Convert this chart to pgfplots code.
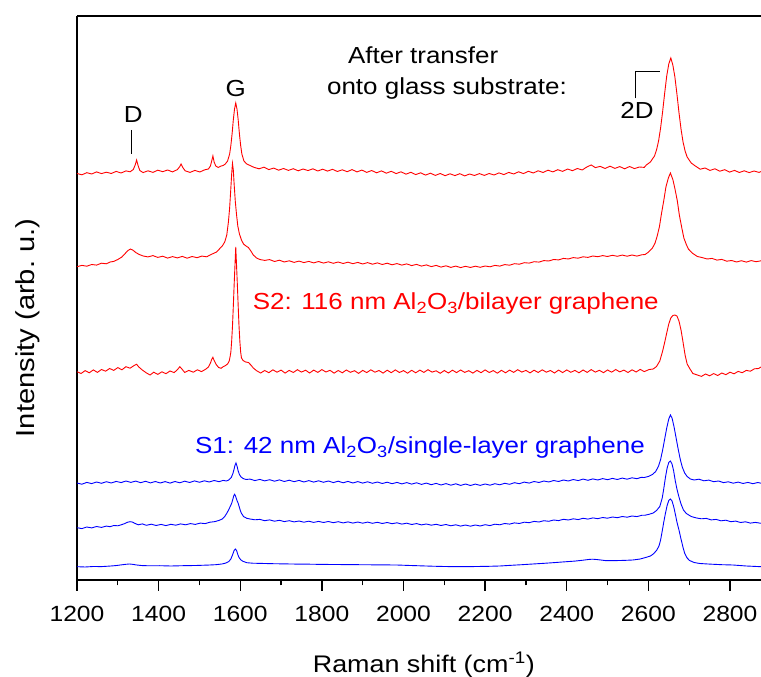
\documentclass[border=0pt]{standalone}
\usepackage{fontspec}
\setmainfont[FakeStretch=1.12]{Liberation Sans}
\usepackage{pgfplots}
\pgfplotsset{compat=1.18}
\begin{document}
\begin{tikzpicture}
\useasboundingbox (-77pt,-97pt) rectangle (684pt,580pt);
\begin{axis}[
  at={(0,0)}, anchor=south west,
  scale only axis, width=684pt, height=564pt,
  xmin=1200, xmax=2876, ymin=0, ymax=564,
  clip=false,
  axis y line*=left,
  xtick pos=bottom,
  ytick=\empty,
  xtick={1200,1400,...,2800},
  minor x tick num=1,
  tick align=outside,
  major tick length=11pt, minor tick length=5.5pt,
  every tick/.append style={black, line width=1.3pt},
  axis line style={line width=1.8pt},
  /pgf/number format/assume math mode=true,
  /pgf/number format/1000 sep={},
  xticklabel style={font=\fontsize{22}{25}\selectfont, anchor=center, yshift=-23pt},
  xlabel={Raman shift (cm\textsuperscript{-1})},
  xlabel style={font=\fontsize{24}{28}\selectfont, at={(axis description cs:0.507,-0.151)}, anchor=center},
  ylabel={Intensity (arb.\ u.)},
  ylabel style={font=\fontsize{26}{30}\selectfont, at={(axis description cs:-0.0724,0.447)}, anchor=center},
  every axis plot/.append style={line width=0.9pt},
]
% Series A: top red (after transfer onto glass)
\addplot[red] coordinates {
(1200,406.5)(1212,405.2)(1224,407.3)(1236,406.0)(1248,408.1)(1260,406.4)(1272,407.8)(1284,406.5)(1296,408.6)(1308,407.0)
(1320,409.1)(1330,408.2)(1338,410.5)(1343,415.5)(1346,420)(1350,414)(1354,409.5)(1362,407.4)(1374,409.2)(1386,407.6)
(1398,409.8)(1410,408.3)(1422,410.0)(1434,408.1)(1446,410.4)(1452,413.5)(1455,416)(1459,412.6)(1465,409.2)(1477,407.6)
(1489,409.6)(1501,408.0)(1513,410.2)(1522,411)(1527,414)(1530,419)(1533,424)(1536,418)(1540,414)(1546,412.5)
(1552,413.8)(1558,414.5)(1563,415.8)(1569,419)(1574,426)(1577,434.5)(1580,446)(1583,460)(1586,471)(1589,477)
(1592,471)(1595,460)(1598,446)(1601,434.5)(1604,426)(1609,419)(1616,416)(1624,414.5)(1634,412.6)(1646,411.2)
(1658,412.8)(1670,410.4)(1682,411.9)(1694,409.8)(1706,411.5)(1718,409.6)(1730,411.3)(1742,409.2)(1754,411.0)(1766,409.4)
(1778,411.2)(1790,409.0)(1802,410.8)(1814,408.9)(1826,410.7)(1838,408.5)(1850,410.2)(1862,408.3)(1874,410.4)(1886,408.1)
(1898,409.9)(1910,407.6)(1922,409.5)(1934,407.2)(1946,409.1)(1958,406.8)(1970,408.7)(1982,406.4)(1994,408.2)(2006,405.8)
(2018,407.7)(2030,405.4)(2042,407.2)(2054,404.9)(2066,406.8)(2078,404.6)(2090,406.5)(2102,404.3)(2114,406.2)(2126,404.4)
(2138,406.3)(2150,404.1)(2162,406.0)(2174,404.5)(2186,406.4)(2198,404.6)(2210,406.5)(2222,405.0)(2234,407.1)(2246,405.4)
(2258,407.6)(2270,406.0)(2282,408.2)(2294,406.4)(2306,408.7)(2318,407.0)(2330,409.2)(2342,407.5)(2354,409.8)(2366,408.1)
(2378,410.3)(2390,408.6)(2402,411.0)(2414,409.3)(2426,411.5)(2438,410.0)(2450,413.2)(2460,415.0)(2470,412.4)(2482,413.6)
(2494,411.5)(2506,413.8)(2518,411.6)(2530,413.4)(2542,411.2)(2554,413.5)(2566,411.4)(2578,413.0)(2590,412.6)(2595,415)
(2605,418)(2615,424)(2620,430)(2625,439)(2630,452)(2635,468.5)(2640,487)(2645,504)(2650,516)(2655,522)
(2660,515)(2665,503)(2670,486)(2675,467.5)(2680,451)(2685,438)(2690,429)(2695,423)(2705,417)(2715,414)
(2727,410.8)(2739,412.0)(2751,409.6)(2763,411.2)(2775,408.8)(2787,410.3)(2799,407.9)(2811,409.6)(2823,407.5)(2835,409.2)
(2847,407.4)(2859,409.0)(2871,407.6)(2876,408.4)
};
% Series B: second red
\addplot[red] coordinates {
(1200,313.3)(1212,314.6)(1224,313.8)(1236,315.5)(1248,314.9)(1260,316.8)(1272,316.2)(1281,318)(1290,318.6)(1300,320.5)
(1310,323)(1318,326.5)(1325,329.5)(1331,331)(1337,329.8)(1344,327.5)(1352,325.6)(1362,324)(1374,323.1)(1386,324.4)
(1398,322.6)(1410,323.8)(1422,321.9)(1434,323.4)(1446,322.1)(1458,323.6)(1470,321.8)(1482,323.5)(1494,322.3)(1506,323.9)
(1518,323.2)(1526,325)(1534,326.5)(1542,328)(1550,331.5)(1556,334)(1562,338)(1567,345)(1571,358)(1574,372)
(1577,392)(1579,406)(1581,416.5)(1583,410)(1585,396)(1588,378)(1591,365)(1594,354)(1598,346)(1603,340)
(1608,336)(1614,334)(1620,332.5)(1626,329)(1632,325)(1640,322)(1648,320.5)(1660,319.6)(1672,320.4)(1684,318.5)
(1696,319.8)(1708,318.0)(1720,319.2)(1732,317.6)(1744,318.9)(1756,317.4)(1768,318.6)(1780,317.1)(1792,318.5)(1804,316.9)
(1816,318.2)(1828,316.7)(1840,318.0)(1852,316.5)(1864,317.8)(1876,316.3)(1888,317.6)(1900,316.0)(1912,317.4)(1924,315.8)
(1936,317.1)(1948,315.5)(1960,316.8)(1972,315.2)(1984,316.4)(1996,314.9)(2008,316.1)(2020,314.4)(2032,315.6)(2044,313.9)
(2056,315.1)(2068,313.4)(2080,314.6)(2092,312.9)(2104,314.2)(2116,312.6)(2128,313.9)(2140,312.4)(2152,313.7)(2164,312.5)
(2176,313.8)(2188,312.7)(2200,314.0)(2212,313.2)(2224,314.6)(2236,313.9)(2248,315.4)(2260,314.8)(2272,316.3)(2284,315.8)
(2296,317.3)(2308,316.9)(2320,318.3)(2332,317.9)(2344,319.4)(2356,319.0)(2368,320.5)(2380,320.1)(2392,321.6)(2404,321.0)
(2416,322.4)(2428,321.8)(2440,323.2)(2452,322.6)(2464,324.0)(2476,323.3)(2488,324.4)(2500,323.5)(2512,324.7)(2524,323.7)
(2536,324.9)(2548,323.8)(2560,325.0)(2572,323.9)(2584,325.2)(2592,325.5)(2599,327.5)(2610,332)(2616,336.5)(2621,343)
(2627,353)(2632,366)(2638,380)(2643,393)(2649,402)(2654,407)(2660,400.5)(2665,391.5)(2671,379)(2676,364.7)
(2682,352)(2687,342)(2693,335.5)(2698,331)(2709,326.5)(2720,323.5)(2732,322.4)(2744,321.0)(2756,321.6)(2768,319.9)
(2780,320.6)(2792,318.8)(2804,319.5)(2816,318.0)(2828,319.3)(2840,317.9)(2852,319.4)(2864,318.3)(2876,319.2)
};
% Series C: third red (S2)
\addplot[red] coordinates {
(1200,208.3)(1210,206.5)(1220,209.4)(1230,207.2)(1240,210.1)(1250,207.6)(1260,210.5)(1270,208.8)(1280,211.5)(1290,209.6)
(1300,212.4)(1310,210.2)(1320,213.3)(1330,211.8)(1340,214.5)(1346,215.7)(1352,212.8)(1360,210.0)(1370,207.1)(1379,205.0)
(1388,207.8)(1398,205.6)(1408,208.2)(1418,206.3)(1428,209.0)(1438,207.4)(1446,210.3)(1452,213.3)(1457,211.0)(1464,207.5)
(1474,209.6)(1485,207.8)(1495,210.2)(1505,208.4)(1515,210.7)(1522,213)(1527,217)(1530,220.5)(1533,222.7)(1536,219.5)
(1541,215.5)(1547,212.5)(1553,211.7)(1559,213.5)(1564,214.5)(1569,216)(1573,219)(1575,223)(1577,228)(1579,239)
(1581,254)(1583,273.5)(1585,294.6)(1587,314)(1589,333)(1591,314)(1593,294.6)(1595,273.5)(1597,254)(1599,239)
(1601,228)(1603,222)(1607,219.5)(1613,218)(1620,217.5)(1626,215)(1632,212)(1640,209.3)(1650,207.0)(1660,209.5)
(1670,207.3)(1680,210.2)(1690,207.8)(1700,209.9)(1710,206.9)(1720,209.6)(1730,207.5)(1740,210.3)(1750,207.9)(1760,209.8)
(1770,207.0)(1780,209.9)(1790,207.6)(1800,210.4)(1810,208.0)(1820,209.7)(1830,206.8)(1840,209.5)(1850,207.2)(1860,210.0)
(1870,207.7)(1880,209.3)(1890,206.6)(1900,209.6)(1910,207.4)(1920,210.2)(1930,207.8)(1940,209.5)(1950,206.9)(1960,209.8)
(1970,207.3)(1980,210.1)(1990,207.5)(2000,209.4)(2010,206.8)(2020,209.7)(2030,207.2)(2040,209.9)(2050,207.6)(2060,210.3)
(2070,207.9)(2080,209.2)(2090,206.7)(2100,209.5)(2110,207.0)(2120,209.8)(2130,207.4)(2140,210.0)(2150,207.6)(2160,209.3)
(2170,206.9)(2180,209.6)(2190,207.3)(2200,210.1)(2210,207.5)(2220,209.4)(2230,206.8)(2240,209.7)(2250,207.2)(2260,209.9)
(2270,207.6)(2280,210.3)(2290,207.9)(2300,209.6)(2310,207.1)(2320,209.8)(2330,207.5)(2340,210.2)(2350,207.8)(2360,209.5)
(2370,207.0)(2380,209.9)(2390,207.4)(2400,210.1)(2410,207.7)(2420,209.6)(2430,207.2)(2440,210.0)(2450,207.6)(2460,210.4)
(2470,207.9)(2480,209.7)(2490,207.3)(2500,210.0)(2510,207.8)(2520,210.5)(2530,208.1)(2540,209.9)(2550,207.5)(2560,210.2)
(2570,208.0)(2580,210.6)(2590,208.4)(2602,210.5)(2612,211)(2620,213.5)(2628,219)(2635,229)(2640,237.7)(2645,247)
(2650,256)(2655,262)(2660,264.5)(2665,265)(2670,264)(2675,259)(2680,250)(2685,237.7)(2690,225)(2695,216)
(2701,211.7)(2709,206.5)(2720,205.0)(2730,203.6)(2740,206.0)(2750,204.2)(2760,206.4)(2770,204.5)(2780,207.0)(2790,205.3)
(2800,207.8)(2810,206.2)(2820,208.6)(2830,207.3)(2840,209.6)(2850,208.8)(2860,211.2)(2870,211.5)(2876,213.0)
};
% Series D: top blue
\addplot[blue] coordinates {
(1200,97.0)(1212,95.8)(1224,97.6)(1236,96.4)(1248,98.0)(1260,96.7)(1272,98.3)(1284,97.0)(1296,98.6)(1308,97.4)
(1320,99.0)(1332,97.6)(1344,98.9)(1356,97.3)(1368,98.7)(1380,97.1)(1392,98.5)(1404,97.0)(1416,98.4)(1428,96.9)
(1440,98.5)(1452,97.2)(1464,98.8)(1476,97.5)(1488,99.1)(1500,97.7)(1512,99.2)(1524,98.0)(1536,99.5)(1548,98.3)
(1558,99.6)(1566,99.0)(1572,100)(1578,102.5)(1582,106.5)(1585,111)(1587,114.5)(1589.5,117)(1592,114)(1595,109)
(1598,105.5)(1602,103)(1607,101.5)(1614,100.5)(1624,100.9)(1636,99.4)(1648,100.6)(1660,99.1)(1672,100.3)(1684,98.8)
(1696,100.1)(1708,98.5)(1720,99.8)(1732,98.3)(1744,99.6)(1756,98.0)(1768,99.4)(1780,97.9)(1792,99.2)(1804,97.7)
(1816,99.0)(1828,97.4)(1840,98.8)(1852,97.2)(1864,98.6)(1876,97.0)(1888,98.4)(1900,96.9)(1912,98.2)(1924,96.7)
(1936,98.0)(1948,96.5)(1960,97.8)(1972,96.3)(1984,97.6)(1996,96.1)(2008,97.4)(2020,95.9)(2032,97.2)(2044,95.6)
(2056,96.9)(2068,95.3)(2080,96.6)(2092,95.0)(2104,96.4)(2116,94.8)(2128,96.2)(2140,94.6)(2152,96.0)(2164,94.5)
(2176,95.9)(2188,94.6)(2200,96.0)(2212,94.8)(2224,96.3)(2236,95.2)(2248,96.7)(2260,95.7)(2272,97.3)(2284,96.3)
(2296,97.9)(2308,96.9)(2320,98.5)(2332,97.5)(2344,99.0)(2356,98.0)(2368,99.5)(2380,98.5)(2392,100.0)(2404,99.0)
(2416,100.5)(2428,99.4)(2440,100.9)(2452,99.7)(2464,101.1)(2476,100.0)(2488,101.4)(2500,100.3)(2512,101.6)(2524,100.5)
(2536,101.9)(2548,100.8)(2560,102.2)(2572,101.3)(2582,102.6)(2590,102.5)(2600,103.5)(2610,105.5)(2618,108.5)(2625,114)
(2630,120.5)(2635,130)(2640,141)(2645,152)(2650,161)(2654,165)(2658,162)(2663,153)(2668,142)(2673,131)
(2678,121)(2683,113)(2689,107)(2695,103.5)(2703,101)(2712,100)(2724,100.8)(2736,99.2)(2748,99.9)(2760,98.3)
(2772,99.0)(2784,97.4)(2796,98.2)(2808,96.8)(2820,97.9)(2832,96.5)(2844,97.6)(2856,96.3)(2868,97.5)(2876,96.8)
};
% Series E: middle blue
\addplot[blue] coordinates {
(1200,52.3)(1212,51.4)(1224,53.0)(1236,52.1)(1248,53.5)(1260,52.6)(1272,53.9)(1281,53.3)(1290,54.5)(1300,54.2)
(1310,55.4)(1318,56.6)(1324,57.8)(1330,58.3)(1336,57.9)(1342,56.6)(1350,55.2)(1360,56.1)(1370,54.7)(1382,55.8)
(1394,54.5)(1406,55.6)(1418,54.4)(1430,55.7)(1442,54.8)(1454,56.1)(1466,55.2)(1478,56.4)(1490,55.6)(1502,56.9)
(1514,56.4)(1526,57.8)(1538,58.4)(1548,59.6)(1556,61)(1562,63.5)(1567,66.7)(1572,70.5)(1576,74)(1579,76.7)
(1582,81)(1584,84)(1586,85.7)(1588,84.5)(1590,82)(1592,79.5)(1595,76.7)(1598,72.5)(1601,68.5)(1603,66.7)
(1608,63.5)(1616,61.7)(1624,61.0)(1636,60.2)(1648,60.6)(1660,59.3)(1672,60.1)(1684,58.8)(1696,59.7)(1708,58.4)
(1720,59.3)(1732,58.1)(1744,59.0)(1756,57.8)(1768,58.8)(1780,57.6)(1792,58.6)(1804,57.5)(1816,58.5)(1828,57.3)
(1840,58.3)(1852,57.1)(1864,58.1)(1876,56.9)(1888,58.0)(1900,56.8)(1912,57.9)(1924,56.7)(1936,57.7)(1948,56.5)
(1960,57.5)(1972,56.3)(1984,57.2)(1996,55.9)(2008,56.8)(2020,55.5)(2032,56.4)(2044,55.1)(2056,56.0)(2068,54.8)
(2080,55.7)(2092,54.5)(2104,55.5)(2116,54.2)(2128,55.2)(2140,53.9)(2152,55.0)(2164,53.8)(2176,55.0)(2188,54.0)
(2200,55.3)(2212,54.4)(2224,55.8)(2236,55.2)(2248,56.5)(2260,55.9)(2272,57.1)(2284,56.5)(2296,57.8)(2308,57.3)
(2320,58.6)(2332,58.0)(2344,59.3)(2356,58.7)(2368,60.0)(2380,59.4)(2392,60.7)(2404,60.0)(2416,61.2)(2428,60.4)
(2440,61.7)(2452,60.9)(2464,62.1)(2476,61.3)(2488,62.5)(2500,61.8)(2512,63.0)(2524,62.3)(2536,63.5)(2548,62.8)
(2560,64.0)(2572,63.4)(2584,64.7)(2592,64.8)(2600,65.5)(2612,67)(2620,69.5)(2628,73.5)(2634,82)(2638,92)
(2642,103)(2646,112)(2650,117.5)(2654,119)(2658,116)(2662,109)(2666,99)(2670,91)(2675,83)(2680,76)
(2686,70)(2693,66.5)(2705,63.5)(2718,62.0)(2730,61.2)(2742,61.6)(2754,60.1)(2766,60.6)(2778,59.2)(2790,59.8)
(2802,58.3)(2814,58.9)(2826,57.5)(2838,58.2)(2850,56.9)(2862,57.6)(2876,56.7)
};
% Series F: bottom blue (smooth)
\addplot[blue] coordinates {
(1200,13.3)(1220,13.0)(1240,13.5)(1260,13.4)(1280,13.9)(1295,14.4)(1310,15.2)(1320,15.7)(1328,16.0)(1336,15.7)
(1346,15.0)(1360,14.4)(1380,14.2)(1403,14.3)(1430,14.0)(1460,14.3)(1490,14.5)(1520,14.9)(1540,15.3)(1555,16.0)
(1565,17.0)(1572,18.5)(1577,21)(1581,25)(1585,29.5)(1588,31)(1591,29.5)(1594,25.5)(1597,22.5)(1601,20.3)
(1606,18.8)(1616,17.3)(1630,16.8)(1650,16.6)(1680,16.3)(1710,16.1)(1740,15.9)(1770,15.8)(1800,15.6)(1830,15.5)
(1860,15.4)(1890,15.3)(1920,15.2)(1950,15.1)(1983,15.0)(2010,14.6)(2040,14.2)(2070,13.8)(2100,13.5)(2130,13.3)
(2154,13.3)(2180,13.5)(2210,13.7)(2236,14.0)(2260,14.6)(2290,15.3)(2317,16.0)(2345,16.7)(2370,17.4)(2399,18.3)
(2420,18.9)(2440,19.8)(2455,20.6)(2464,20.8)(2475,20.4)(2497,19.3)(2520,19.4)(2540,19.6)(2562,20.0)(2580,21.0)
(2595,22.7)(2605,24)(2612,26)(2620,29.5)(2626,34)(2630,40)(2634,49)(2638,58.5)(2642,67)(2646,74.5)
(2650,79.5)(2654,81)(2658,79)(2662,73.5)(2666,66)(2670,58)(2675,50)(2680,41)(2685,32.5)(2689,26.7)
(2695,22)(2701,19.5)(2712,17.5)(2726,16.5)(2750,15.9)(2780,15.3)(2807,15.0)(2840,14.0)(2876,13.3)
};
% Annotations
\draw[line width=1pt] (axis cs:1334.7,450) -- (axis cs:1334.7,426);
\draw[line width=1pt] (axis cs:2569,481.7) -- (axis cs:2569,508.3) -- (axis cs:2629.5,508.3);
\node[anchor=base, inner sep=0pt, font=\fontsize{23.2}{27}\selectfont] at (axis cs:1338,457.3) {D};
\node[anchor=base, inner sep=0pt, font=\fontsize{23.2}{27}\selectfont] at (axis cs:1588.7,483.3) {G};
\node[anchor=base, inner sep=0pt, font=\fontsize{23.2}{27}\selectfont] at (axis cs:2572,461) {2D};
\node[anchor=base west, inner sep=0pt, font=\fontsize{23.2}{27}\selectfont] at (axis cs:1863.7,516.7) {After transfer};
\node[anchor=base west, inner sep=0pt, font=\fontsize{23.2}{27}\selectfont] at (axis cs:1812.3,485.7) {onto glass substrate:};
\node[anchor=base west, inner sep=0pt, text=red, font=\fontsize{23.2}{27}\selectfont] at (axis cs:1630.3,270) {S2: 116 nm Al\textsubscript{2}O\textsubscript{3}/bilayer graphene};
\node[anchor=base west, inner sep=0pt, text=blue, font=\fontsize{23.2}{27}\selectfont] at (axis cs:1489,126) {S1: 42 nm Al\textsubscript{2}O\textsubscript{3}/single-layer graphene};
\end{axis}
\end{tikzpicture}
\end{document}
